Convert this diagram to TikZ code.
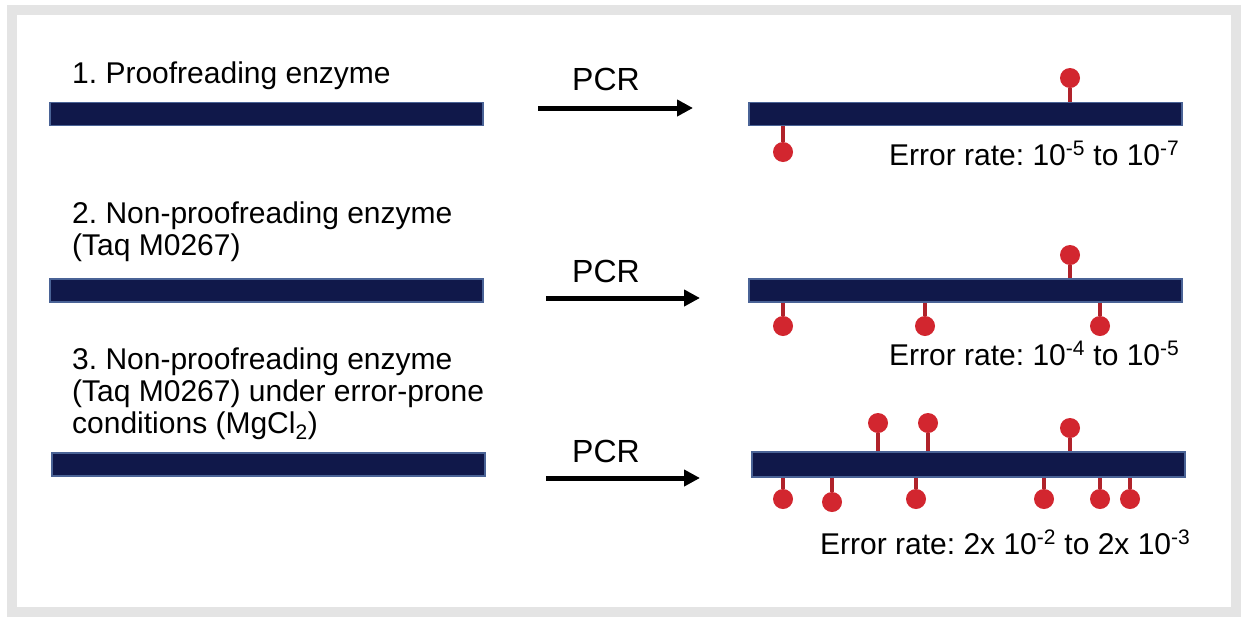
\documentclass[tikz,border=0pt]{standalone}
\usepackage{fontspec}
\setmainfont{Liberation Sans}
\usetikzlibrary{arrows.meta}
\definecolor{navy}{HTML}{10184A}
\definecolor{navyedge}{HTML}{4A6396}
\definecolor{pinred}{HTML}{D2262F}
\definecolor{stemred}{HTML}{B0222A}
\definecolor{framegray}{HTML}{E4E4E4}
\tikzset{
  dna/.style={draw=navyedge, line width=1.5pt, fill=navy, inner sep=0pt, minimum height=23pt, minimum width=433pt},
  head/.style={circle, fill=pinred, inner sep=0pt, minimum size=20pt},
  stem/.style={draw=stemred, line width=4.5pt},
  lbl/.style={anchor=base west, inner sep=0pt, align=left, font=\fontsize{30}{32}\selectfont},
  pcr/.style={anchor=base west, inner sep=0pt, font=\fontsize{32}{34}\selectfont},
  pcrarrow/.style={line width=5pt, -{Triangle[length=16pt,width=16pt]}},
}
\frenchspacing
\begin{document}
\begin{tikzpicture}[x=1pt,y=-1pt]
\useasboundingbox (0,0) rectangle (1248,622);
\fill[framegray] (7,5) rectangle (1241,617);
\fill[white] (17,15) rectangle (1231,607);

% row 1
\node[lbl] (t1) at (72,83) {1. Proofreading enzyme};
\node[dna] (L1) at (266.5,114) {};
\node[pcr] (p1) at (572,90) {PCR};
\coordinate (a1s) at (538,108);
\coordinate (a1e) at (693,108);
\draw[pcrarrow] (a1s) -- (a1e);
\node[dna] (R1) at (965.5,114) {};
\node[head] (h11) at (1070,78) {};
\node[head] (h12) at (783,152) {};
\draw[stem] (h11.south) -- (h11 |- R1.north);
\draw[stem] (h12.north) -- (h12 |- R1.south);
\node[lbl] (e1) at (889,165) {Error rate: 10\textsuperscript{-5} to 10\textsuperscript{-7}};

% row 2
\node[lbl] (t2) at (72,255) {2. Non-proofreading enzyme\\(Taq M0267)};
\node[dna] (L2) at (266.5,290.5) {};
\node[pcr] (p2) at (572,282) {PCR};
\coordinate (a2s) at (546,298);
\coordinate (a2e) at (700,298);
\draw[pcrarrow] (a2s) -- (a2e);
\node[dna] (R2) at (965.5,290.5) {};
\node[head] (h21) at (1070,255) {};
\node[head] (h22) at (783,326) {};
\node[head] (h23) at (925,326) {};
\node[head] (h24) at (1100,326) {};
\draw[stem] (h21.south) -- (h21 |- R2.north);
\foreach \h in {h22,h23,h24} \draw[stem] (\h.north) -- (\h |- R2.south);
\node[lbl] (e2) at (889,365) {Error rate: 10\textsuperscript{-4} to 10\textsuperscript{-5}};

% row 3
\node[lbl] (t3) at (72,433) {3. Non-proofreading enzyme\\(Taq M0267) under error-prone\\conditions (MgCl\textsubscript{2})};
\node[dna] (L3) at (268.5,464.5) {};
\node[pcr] (p3) at (572,462) {PCR};
\coordinate (a3s) at (546,478);
\coordinate (a3e) at (700,478);
\draw[pcrarrow] (a3s) -- (a3e);
\node[dna, minimum height=25pt] (R3) at (968.5,464.5) {};
\node[head] (h31) at (878,423) {};
\node[head] (h32) at (928,423) {};
\node[head] (h33) at (1070,428) {};
\node[head] (h34) at (783,499) {};
\node[head] (h35) at (832,502) {};
\node[head] (h36) at (916,499) {};
\node[head] (h37) at (1044,499) {};
\node[head] (h38) at (1100,499) {};
\node[head] (h39) at (1130,499) {};
\foreach \h in {h31,h32,h33} \draw[stem] (\h.south) -- (\h |- R3.north);
\foreach \h in {h34,h35,h36,h37,h38,h39} \draw[stem] (\h.north) -- (\h |- R3.south);
\node[lbl] (e3) at (820,554) {Error rate: 2x 10\textsuperscript{-2} to 2x 10\textsuperscript{-3}};
\end{tikzpicture}
\end{document}
